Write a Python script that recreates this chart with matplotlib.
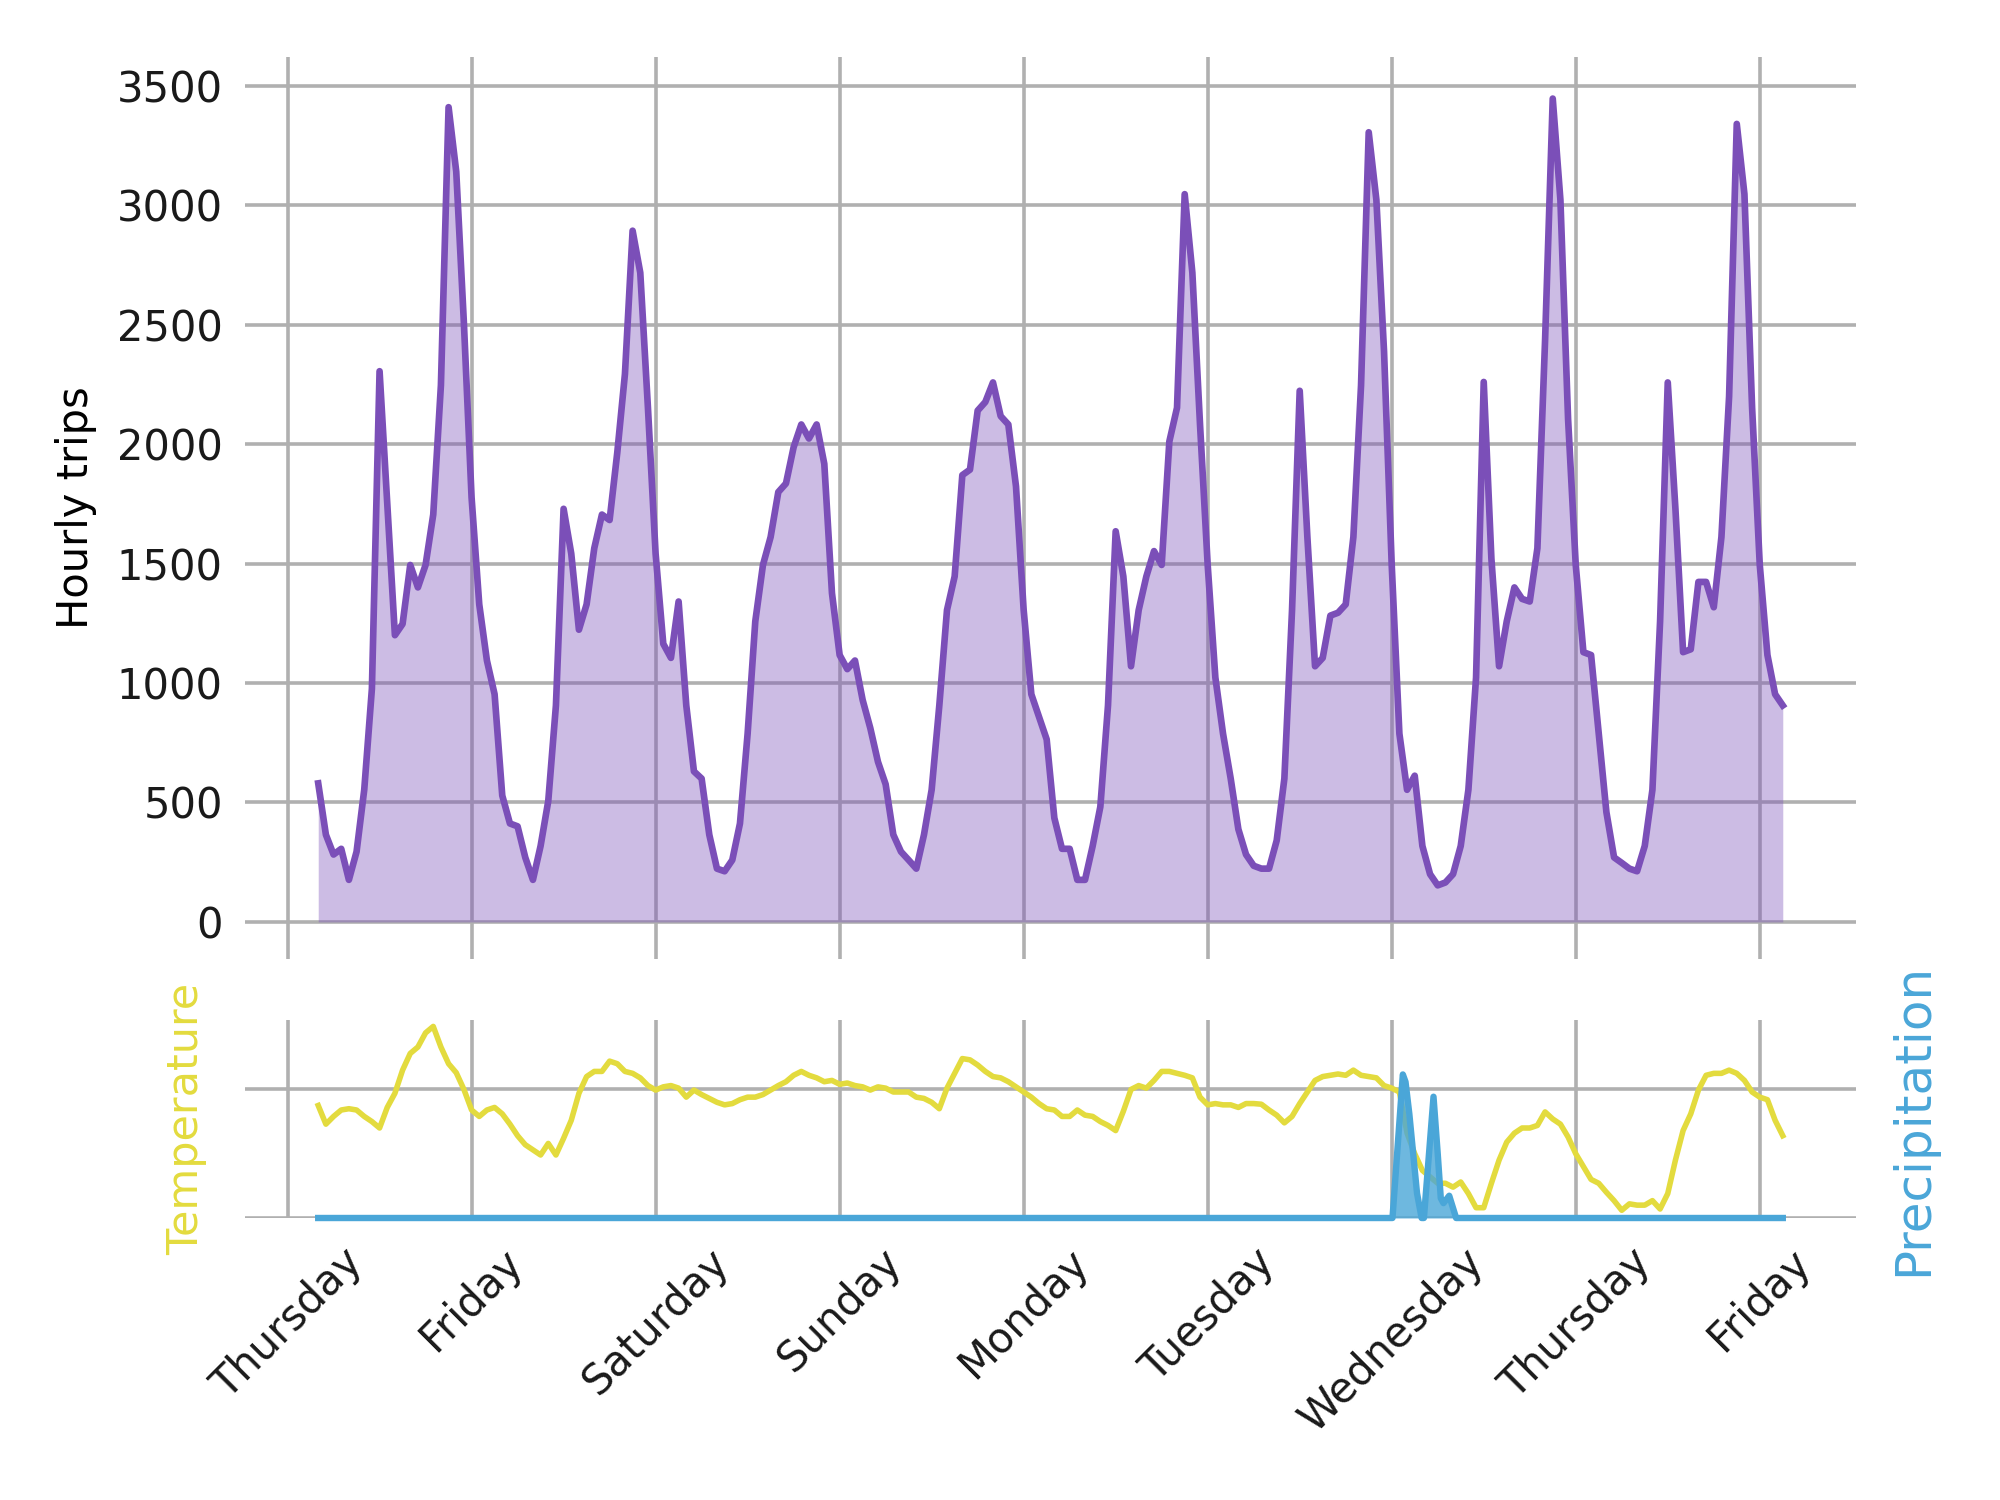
import numpy as np
import matplotlib
matplotlib.use("Agg")
import matplotlib.pyplot as plt

# ---------------- data ----------------
day_labels = ["Thursday", "Friday", "Saturday", "Sunday", "Monday",
              "Tuesday", "Wednesday", "Thursday", "Friday"]
day_ticks = [0, 24, 48, 72, 96, 120, 144, 168, 192]   # hours

hours = list(range(4, 196))

trips = [
    580, 365, 282, 306, 176, 294, 553, 976, 2305, 1752, 1200, 1247, 1494, 1400, 1494, 1705, 2246, 3410, 3140, 2505,
    1776, 1329, 1094, 953, 529, 412, 400, 270, 176, 318, 506, 906, 1729, 1541, 1223, 1329, 1564, 1705, 1682, 1964, 2293, 2893, 2717, 2152,
    1541, 1164, 1105, 1341, 906, 630, 600, 365, 223, 212, 259, 412, 788, 1258, 1494, 1611, 1799, 1835, 1987, 2082, 2023, 2082, 1917, 1376,
    1117, 1058, 1094, 929, 811, 670, 576, 365, 294, 259, 223, 365, 553, 906, 1305, 1446, 1870, 1893, 2140, 2176, 2258, 2117, 2082, 1823,
    1305, 953, 859, 764, 435, 306, 306, 176, 176, 318, 482, 906, 1635, 1446, 1070, 1305, 1446, 1552, 1494, 2011, 2152, 3046, 2717, 2082,
    1494, 1023, 788, 600, 388, 282, 235, 223, 223, 341, 600, 1305, 2223, 1611, 1070, 1105, 1282, 1294, 1329, 1611, 2246, 3305, 3022, 2387,
    1494, 788, 553, 612, 318, 200, 153, 165, 200, 318, 553, 1023, 2260, 1520, 1070, 1258, 1400, 1352, 1341, 1564, 2434, 3446, 3022, 2105,
    1494, 1129, 1117, 788, 459, 270, 247, 223, 212, 318, 553, 1258, 2258, 1729, 1129, 1141, 1423, 1423, 1317, 1611, 2199, 3340, 3046, 2152,
    1494, 1117, 953, 906,
]

temperature = [
    18.75, 17.3, 17.9, 18.4, 18.5, 18.4, 17.9, 17.5, 17.0, 18.6, 19.7, 21.5, 22.8, 23.3, 24.4, 24.9, 23.3, 22.0, 21.3, 20.0,
    18.4, 17.9, 18.4, 18.6, 18.1, 17.3, 16.4, 15.7, 15.3, 14.9, 15.8, 14.9, 16.2, 17.6, 19.7, 21.0, 21.4, 21.4, 22.2, 22.0, 21.4, 21.25, 20.9, 20.3,
    19.95, 20.2, 20.3, 20.1, 19.4, 19.95, 19.6, 19.3, 19.0, 18.8, 18.9, 19.2, 19.4, 19.4, 19.6, 19.95, 20.3, 20.6, 21.1, 21.4, 21.1, 20.9, 20.6, 20.7,
    20.4, 20.5, 20.3, 20.2, 19.95, 20.2, 20.1, 19.8, 19.8, 19.8, 19.4, 19.3, 19.0, 18.5, 20.1, 21.25, 22.4, 22.3, 21.9, 21.4, 21.0, 20.9, 20.6, 20.2,
    19.8, 19.4, 18.9, 18.5, 18.4, 17.9, 17.9, 18.4, 18.0, 17.9, 17.5, 17.2, 16.8, 18.3, 20.0, 20.3, 20.1, 20.7, 21.4, 21.4, 21.25, 21.1, 20.9, 19.4,
    18.8, 18.9, 18.8, 18.8, 18.6, 18.9, 18.9, 18.85, 18.4, 18.0, 17.4, 17.9, 18.9, 19.8, 20.7, 21.0, 21.1, 21.2, 21.1, 21.5, 21.1, 21.0, 20.9, 20.3,
    20.1, 19.8, 16.6, 15.0, 13.7, 13.2, 12.7, 12.7, 12.4, 12.8, 11.9, 10.8, 10.8, 12.7, 14.5, 15.9, 16.6, 17.0, 17.0, 17.2, 18.25, 17.7, 17.3, 16.3,
    15.0, 14.0, 13.0, 12.7, 12.0, 11.35, 10.6, 11.1, 11.0, 11.0, 11.35, 10.7, 11.9, 14.5, 16.8, 18.1, 19.95, 21.1, 21.25, 21.25, 21.5, 21.25, 20.7, 19.8,
    19.4, 19.2, 17.6, 16.4,
]

precip_hours = [4, 144.1, 145.45, 145.8, 146.3, 146.8, 147.3, 147.9, 148.2,
                149.45, 150.0, 150.4, 150.75, 151.5, 152.4, 195]
precipitation = [0, 0, 2.9, 2.75, 2.1, 1.3, 0.5, 0, 0,
                 2.45, 1.3, 0.4, 0.3, 0.45, 0, 0]

assert len(trips) == len(hours) and len(temperature) == len(hours)

# ---------------- style ----------------
purple = "#7b4fb8"
yellow = "#e3db3e"
blue = "#4aa6d8"
grid_color = "#b0b0b0"
FS = 15

plt.rcParams["font.family"] = ["DejaVu Sans"]

fig = plt.figure(figsize=(10, 7.5), dpi=200)
ax1 = fig.add_axes([0.1225, 0.3607, 0.8055, 0.6013])
ax2 = fig.add_axes([0.1225, 0.188, 0.8055, 0.132], sharex=ax1)
ax3 = ax2.twinx()

for ax in (ax1, ax2, ax3):
    for s in ax.spines.values():
        s.set_visible(False)
    ax.tick_params(length=0, labelsize=FS, colors="#1a1a1a")

# top panel
ax1.fill_between(hours, trips, color=purple, alpha=0.38, lw=0)
ax1.plot(hours, trips, color=purple, lw=2.4)
ax1.set_ylim(-155, 3620)
ax1.set_yticks([0, 500, 1000, 1500, 2000, 2500, 3000, 3500])
ax1.grid(True, color=grid_color, lw=1.3)
ax1.set_axisbelow(True)
ax1.tick_params(axis="y", pad=8)
ax1.tick_params(axis="x", labelbottom=False)
ax1.set_ylabel("Hourly trips", fontsize=FS, labelpad=7)

span = hours[-1] - hours[0]
ax1.set_xlim(hours[0] - 0.05 * span, hours[-1] + 0.05 * span)
ax1.set_xticks(day_ticks)

# bottom panel
ax2.plot(hours, temperature, color=yellow, lw=2.0)
ax2.set_ylim(10, 25.4)
ax2.set_yticks([10, 20])
ax2.set_yticklabels([])
ax2.grid(True, color=grid_color, lw=1.3)
ax2.set_axisbelow(True)
ax2.set_ylabel("Temperature", color=yellow, fontsize=15.5, labelpad=10)
ax2.set_xticks(day_ticks)
ax2.set_xticklabels(day_labels, rotation=45, fontsize=FS)
ax2.tick_params(axis="x", pad=8)

ax3.fill_between(precip_hours, precipitation, color=blue, alpha=0.8, lw=0)
ax3.plot(precip_hours, precipitation, color=blue, lw=2.3, clip_on=False)
ax3.set_ylim(0, 4)
ax3.set_yticks([])
ax3.grid(False)
ax3.set_ylabel("Precipitation", color=blue, fontsize=18, labelpad=12)

fig.savefig("out.png", dpi=200, facecolor="white")
